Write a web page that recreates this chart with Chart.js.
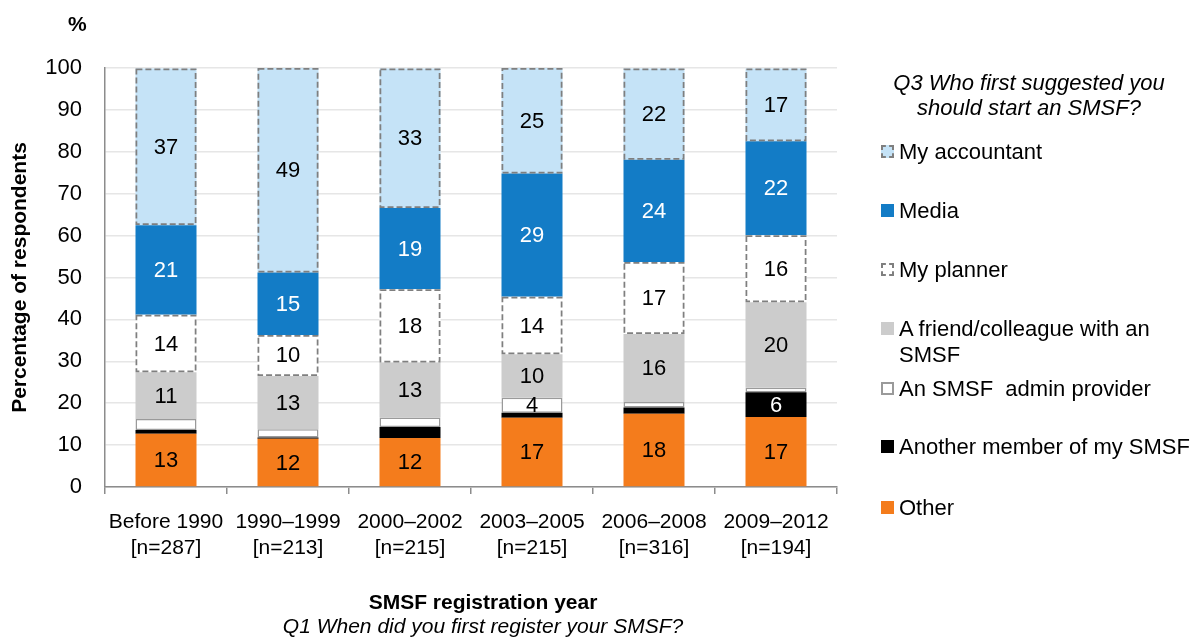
<!DOCTYPE html>
<html>
<head>
<meta charset="utf-8">
<script src="https://cdn.jsdelivr.net/npm/chart.js@4/dist/chart.umd.min.js"></script>
<style>
  html, body { margin: 0; padding: 0; background: #fff; }
  #wrap { position: relative; width: 1197px; height: 639px; overflow: hidden; font-family: "Liberation Sans", Arial, sans-serif; color: #000; }
  canvas { position: absolute; left: 0; top: 0; }
  .abs { position: absolute; white-space: nowrap; }
  .pct { left: 68px; top: 12px; font-weight: bold; font-size: 21px; }
  .xt { left: 283px; width: 400px; text-align: center; top: 590px; font-weight: bold; font-size: 21px; }
  .xs { left: 233px; width: 500px; text-align: center; top: 614px; font-style: italic; font-size: 21px; }
  .lt { left: 879px; width: 300px; text-align: center; top: 70px; font-style: italic; font-size: 22px; line-height: 25px; }
  .li { left: 880px; font-size: 22px; line-height: 26px; }
  .mk { position: absolute; left: 1px; top: 6px; width: 13px; height: 13px; box-sizing: border-box; }
  .li span.t { position: relative; left: 19px; display: inline-block; }
</style>
</head>
<body>
<div id="wrap">
  <canvas id="c" width="1197" height="639"></canvas>
  <div class="abs pct">%</div>
  <div class="abs xt">SMSF registration year</div>
  <div class="abs xs">Q1 When did you first register your SMSF?</div>
  <div id="legend"></div>
</div>
<script>
const categories = ['Before 1990', '1990–1999', '2000–2002', '2003–2005', '2006–2008', '2009–2012'];
const sampleSizes = ['[n=287]', '[n=213]', '[n=215]', '[n=215]', '[n=316]', '[n=194]'];
const yTicks = [0, 10, 20, 30, 40, 50, 60, 70, 80, 90, 100];

const otherValues        = [12.7, 11.5, 11.7, 16.5, 17.5, 16.7];
const anotherMemberValues = [0.9, 0.3, 2.6, 1.2, 1.5, 5.9];
const adminProviderValues = [2.6, 2.0, 2.3, 3.6, 1.3, 1.1];
const friendValues       = [11.2, 12.7, 13.1, 10.4, 16.2, 20.4];
const plannerValues      = [13.7, 9.8, 17.5, 13.7, 17.2, 16.0];
const mediaValues        = [21.4, 14.9, 19.4, 29.4, 24.4, 22.4];
const accountantValues   = [37.4, 48.8, 33.3, 25.2, 21.8, 17.4];

const seriesNames = ['Other', 'Another member of my SMSF', 'An SMSF  admin provider', 'A friend/colleague with an SMSF', 'My planner', 'Media', 'My accountant'];
const legendTitle = ['Q3 Who first suggested you', 'should start an SMSF?'];

const FONT = '"Liberation Sans", Arial, sans-serif';
const GRAY_BORDER = '#7f7f7f';

const styles = [
  { bg: '#f47c1c', text: '#000', border: null },
  { bg: '#000000', text: '#fff', border: null },
  { bg: '#ffffff', text: '#000', border: 'solid' },
  { bg: '#cccccc', text: '#000', border: null },
  { bg: '#ffffff', text: '#000', border: 'dashed' },
  { bg: '#137cc6', text: '#fff', border: null },
  { bg: '#c5e3f7', text: '#000', border: 'dashed' }
];
const allValues = [otherValues, anotherMemberValues, adminProviderValues, friendValues, plannerValues, mediaValues, accountantValues];

const datasets = allValues.map((vals, i) => ({
  label: seriesNames[i],
  data: vals,
  backgroundColor: styles[i].bg,
  borderColor: styles[i].border === 'solid' ? '#9a9a9a' : 'rgba(0,0,0,0)',
  borderWidth: styles[i].border === 'solid' ? 1.5 : 0,
  borderSkipped: false,
  barPercentage: 0.5,
  categoryPercentage: 1.0
}));

const segmentPlugin = {
  id: 'segmentDecor',
  afterDatasetsDraw(chart) {
    const ctx = chart.ctx;
    chart.data.datasets.forEach((ds, di) => {
      const meta = chart.getDatasetMeta(di);
      meta.data.forEach((el, idx) => {
        const p = el.getProps(['x', 'y', 'base', 'width'], true);
        const left = p.x - p.width / 2;
        const top = Math.min(p.y, p.base), bottom = Math.max(p.y, p.base);
        if (styles[di].border === 'dashed') {
          ctx.save();
          ctx.strokeStyle = GRAY_BORDER;
          ctx.lineWidth = 1.75;
          ctx.setLineDash([6, 3]);
          ctx.strokeRect(left + 0.9, top + 0.9, p.width - 1.8, bottom - top - 1.8);
          ctx.restore();
        }
        const v = ds.data[idx];
        if (v >= 3.5) {
          ctx.save();
          ctx.fillStyle = styles[di].text;
          ctx.font = '22px ' + FONT;
          ctx.textAlign = 'center';
          ctx.textBaseline = 'middle';
          ctx.fillText(String(Math.round(v)), p.x, (top + bottom) / 2 + 1);
          ctx.restore();
        }
      });
    });
  }
};

new Chart(document.getElementById('c'), {
  type: 'bar',
  data: {
    labels: categories.map((c, i) => [c, sampleSizes[i]]),
    datasets
  },
  options: {
    responsive: false,
    animation: false,
    layout: { padding: { top: 68, right: 360, bottom: 0, left: 0 } },
    plugins: { legend: { display: false }, tooltip: { enabled: false } },
    scales: {
      x: {
        stacked: true,
        afterFit: (s) => { s.height = 152; },
        grid: { display: true, drawOnChartArea: false, drawTicks: true, tickLength: 7, color: '#8c8c8c', lineWidth: 1.5, offset: true },
        border: { display: true, color: '#8c8c8c', width: 1.5 },
        ticks: { color: '#000', font: { family: FONT, size: 21 }, padding: 16, maxRotation: 0, autoSkip: false }
      },
      y: {
        stacked: true,
        min: 0,
        max: 100,
        afterFit: (s) => { s.width = 105; },
        afterBuildTicks: (s) => { s.ticks = yTicks.map(v => ({ value: v })); },
        grid: { color: '#e6e6e6', lineWidth: 1.5, drawTicks: false },
        border: { display: true, color: '#8c8c8c', width: 1.5 },
        ticks: { color: '#000', font: { family: FONT, size: 22 }, padding: 23 },
        title: { display: true, text: 'Percentage of respondents', color: '#000', font: { family: FONT, size: 21, weight: 'bold' }, padding: { top: 8, bottom: 0 } }
      }
    }
  },
  plugins: [segmentPlugin]
});

// HTML legend
const legend = document.getElementById('legend');
const lt = document.createElement('div');
lt.className = 'abs lt';
lt.innerHTML = legendTitle.join('<br>');
legend.appendChild(lt);
const legendOrder = [6, 5, 4, 3, 2, 1, 0];
const legendTops = [139, 198, 257, 316, 376, 434, 495];
const legendLines = {
  3: ['A friend/colleague with an', 'SMSF']
};
legendOrder.forEach((si, k) => {
  const item = document.createElement('div');
  item.className = 'abs li';
  item.style.top = legendTops[k] + 'px';
  const mk = document.createElement('div');
  mk.className = 'mk';
  mk.style.background = styles[si].bg;
  if (styles[si].border === 'dashed') mk.style.border = '2px dashed ' + GRAY_BORDER;
  if (styles[si].border === 'solid') mk.style.border = '2px solid #9a9a9a';
  item.appendChild(mk);
  const t = document.createElement('span');
  t.className = 't';
  t.innerHTML = (legendLines[si] || [seriesNames[si]]).join('<br>').replace('  ', '&nbsp; ');
  item.appendChild(t);
  legend.appendChild(item);
});
</script>
</body>
</html>
